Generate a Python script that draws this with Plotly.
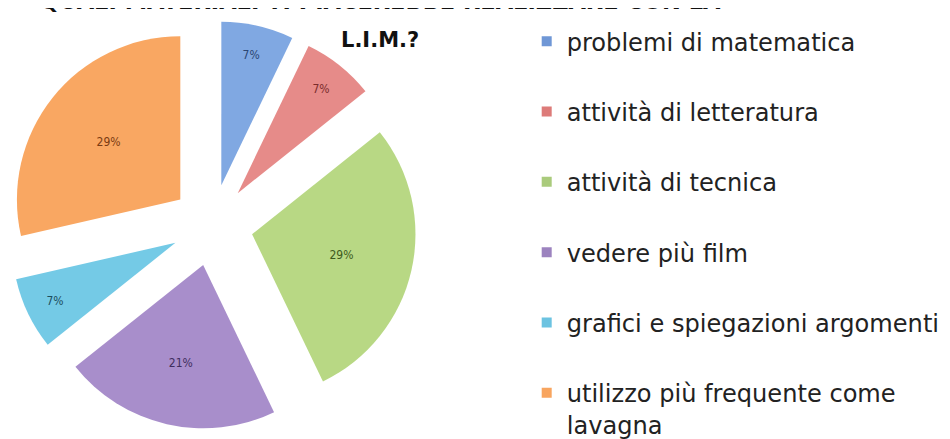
import plotly.graph_objects as go

labels = ["problemi di matematica", "attività di letteratura", "attività di tecnica",
          "vedere più film", "grafici e spiegazioni argomenti",
          "utilizzo più frequente come<br>lavagna"]
counts = [1, 1, 4, 3, 1, 4]
slice_colors = ["#80a8e2", "#e68b89", "#b8d884", "#a88ecb", "#74cae6", "#f9a762"]
legend_colors = ["#6f97d6", "#dd7b79", "#aacb7c", "#9c83bf", "#6cc3e1", "#f8a55f"]
text_colors = ["#2b4673", "#7a2c2c", "#3d5a1c", "#3f2d5e", "#1d4e5e", "#7a3b12"]
title_line1 = "QUALI MATERIALI TI PIACEREBBE REALIZZARE CON LA"
title_line2 = "L.I.M.?"

fig = go.Figure()
fig.add_trace(go.Pie(
    labels=labels, values=counts, sort=False, direction="clockwise", rotation=0,
    pull=[0.25] * len(counts),
    marker=dict(colors=slice_colors, line=dict(width=0)),
    texttemplate="%{percent:.0%}", textposition="inside",
    insidetextorientation="horizontal",
    textfont=dict(family="DejaVu Sans Condensed", size=12, color=text_colors),
    domain=dict(x=[0, 0.43], y=[0.040, 0.971]),
    showlegend=False, hoverinfo="label+percent",
))

for lab, col in zip(labels, legend_colors):
    fig.add_trace(go.Scatter(
        x=[None], y=[None], mode="markers", name=lab, legendgroup=lab,
        marker=dict(symbol="square", size=10, color=col),
    ))

fig.update_layout(
    width=950, height=439,
    margin=dict(l=0, r=0, t=0, b=0),
    paper_bgcolor="white", plot_bgcolor="white",
    xaxis=dict(visible=False), yaxis=dict(visible=False),
    legend=dict(
        x=0.546, xanchor="left", y=0.945, yanchor="top",
        font=dict(family="DejaVu Sans", size=24.1, color="#222222"),
        tracegroupgap=36, valign="top", itemwidth=30,
        bgcolor="rgba(0,0,0,0)",
    ),
    annotations=[
        dict(text=title_line1, x=0.392, y=1.0, xref="paper", yref="paper",
             xanchor="center", yanchor="bottom", yshift=-8, showarrow=False,
             font=dict(family="DejaVu Sans", size=22.5, color="#111111", weight="bold")),
        dict(text=title_line2, x=0.392, y=0.927, xref="paper", yref="paper",
             xanchor="center", yanchor="middle", showarrow=False,
             font=dict(family="DejaVu Sans", size=21, color="#111111", weight="bold")),
    ],
)

fig.write_html("out.html")
